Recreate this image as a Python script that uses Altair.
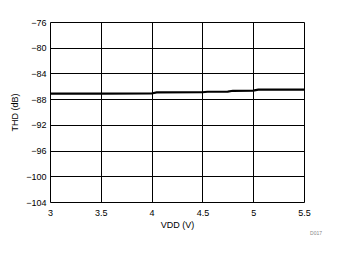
import altair as alt
import pandas as pd

vdd = [3.0, 3.5, 4.0, 4.05, 4.5, 4.55, 4.75, 4.8, 5.0, 5.05, 5.5]
thd = [-87.15, -87.15, -87.12, -86.95, -86.93, -86.85, -86.84, -86.70, -86.68, -86.53, -86.52]
df = pd.DataFrame({"VDD": vdd, "THD": thd})

x_ticks = [3, 3.5, 4, 4.5, 5, 5.5]
y_ticks = [-76, -80, -84, -88, -92, -96, -100, -104]

font = "Liberation Sans"

line = alt.Chart(df).mark_line(color="black", strokeWidth=2.2, interpolate="linear").encode(
    x=alt.X("VDD:Q", scale=alt.Scale(domain=[3, 5.5], nice=False),
            axis=alt.Axis(values=x_ticks, title="VDD (V)", format="~g", grid=True, gridColor="black",
                          gridOpacity=1, gridWidth=1, tickSize=0, labelPadding=6,
                          domain=False, labelFontSize=9, titleFontSize=9,
                          titleFontWeight="normal", labelColor="black", titleColor="black",
                          titlePadding=3, labelFont=font, titleFont=font, labelFlush=False)),
    y=alt.Y("THD:Q", scale=alt.Scale(domain=[-104, -76], nice=False),
            axis=alt.Axis(values=y_ticks, title="THD (dB)", grid=True, gridColor="black",
                          gridOpacity=1, gridWidth=1, tickSize=0, labelPadding=4,
                          domain=False, labelFontSize=9, titleFontSize=9,
                          titleFontWeight="normal", labelColor="black", titleColor="black",
                          titlePadding=6, labelFont=font, titleFont=font, labelFlush=False)),
)

note = alt.Chart(pd.DataFrame({"t": ["D017"]})).mark_text(
    fontSize=5, color="#888888", font=font, align="center", baseline="middle"
).encode(x=alt.value(266), y=alt.value(211), text="t:N")

chart = alt.layer(line, note).properties(
    width=254, height=180,
    padding={"left": 50, "top": 22, "right": 33, "bottom": 52},
    autosize=alt.AutoSizeParams(type="none"),
).configure_view(stroke="black", strokeWidth=1.5).configure(background="white")

chart.save("out.html", embed_options={"renderer": "svg", "actions": False})
